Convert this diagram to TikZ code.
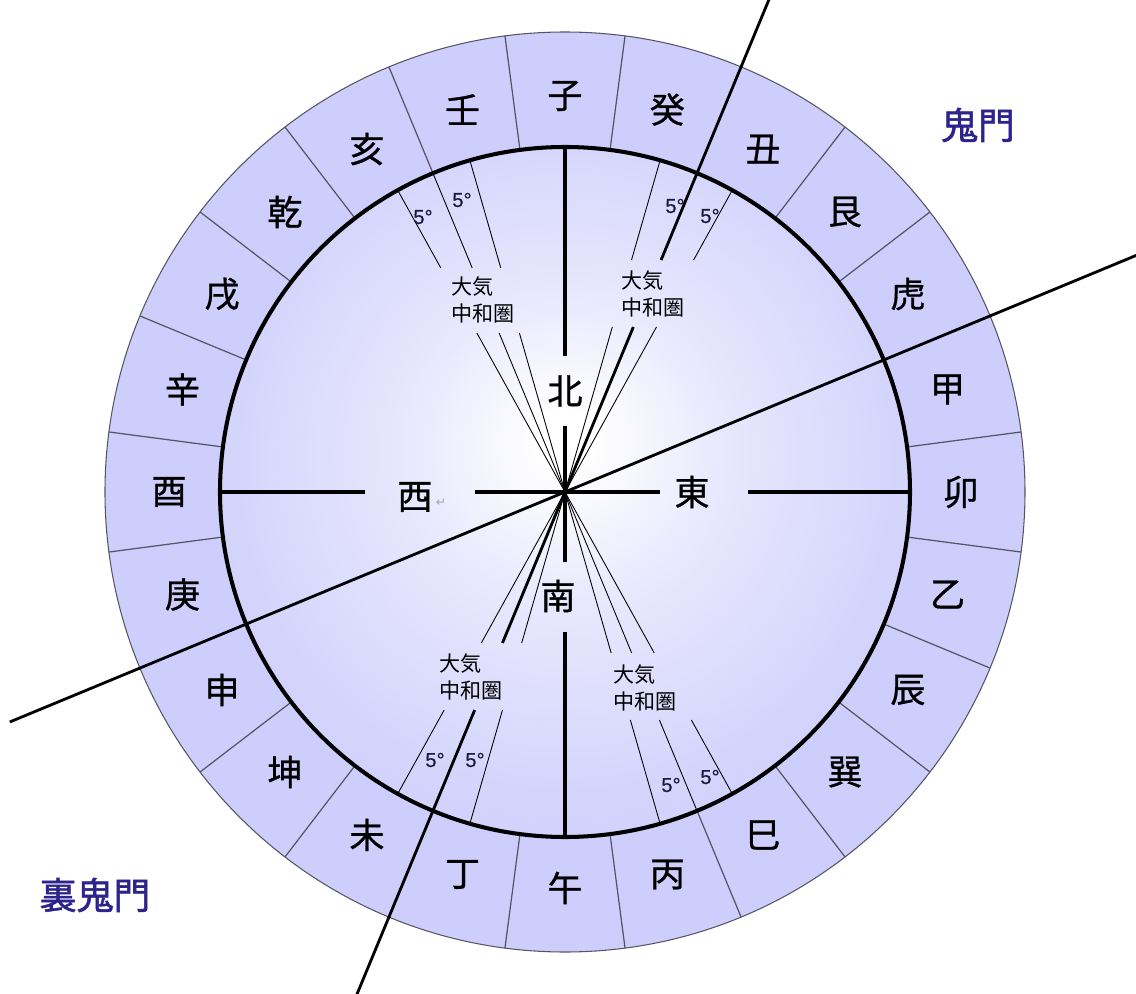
\documentclass[tikz,border=0pt]{standalone}
\usepackage{fontspec}
\newfontfamily\jpfont{Noto Sans CJK JP}
\newfontfamily\kanfont[FakeBold=0.8]{Noto Sans CJK JP}
\newfontfamily\gatefont[FakeBold=1.5]{Noto Sans CJK JP}
\newfontfamily\degfont[FakeBold=0.5]{Liberation Sans}
\newfontfamily\markfont{DejaVu Sans}
\definecolor{ringfill}{RGB}{206,206,252}
\definecolor{ringedge}{RGB}{85,85,100}
\definecolor{gatetext}{RGB}{45,35,140}
\definecolor{degtext}{RGB}{25,25,60}
\pgfdeclareradialshading{innerglow}{\pgfpoint{0bp}{4bp}}{color(0bp)=(white); color(2bp)=(white); color(12bp)=(ringfill!50!white); color(26bp)=(ringfill!92!white); color(50bp)=(ringfill)}
\tikzset{
  divline/.style={draw=ringedge, line width=0.7pt},
  axisline/.style={line width=2.4pt},
  gateline/.style={line width=1.6pt},
  zoneline/.style={line width=0.5pt},
  kanlabel/.style={font=\kanfont\fontsize{20}{24}\selectfont},
  zonelabel/.style={font=\jpfont\fontsize{12}{15}\selectfont, align=left},
  deglabel/.style={font=\degfont\fontsize{11.5}{13}\selectfont, text=degtext},
  gatelabel/.style={font=\gatefont\fontsize{21}{24}\selectfont, text=gatetext}
}
\begin{document}
\begin{tikzpicture}[x=0.02cm, y=0.02cm]
                    \useasboundingbox (-565,-502) rectangle (571,492);
                    
                    % Drawing outer ring and inner disc
                    \draw [fill=ringfill, draw=ringedge, line width=0.6pt] (0,0) circle (460);%
                    \shade [shading=innerglow] (0,0) circle (345);%
                    
                    % Drawing ring dividers
                    \draw [divline] (7.5:345) -- (7.5:460);%
                    \draw [divline] (22.5:345) -- (22.5:460);%
                    \draw [divline] (37.5:345) -- (37.5:460);%
                    \draw [divline] (52.5:345) -- (52.5:460);%
                    \draw [divline] (67.5:345) -- (67.5:460);%
                    \draw [divline] (82.5:345) -- (82.5:460);%
                    \draw [divline] (97.5:345) -- (97.5:460);%
                    \draw [divline] (112.5:345) -- (112.5:460);%
                    \draw [divline] (127.5:345) -- (127.5:460);%
                    \draw [divline] (142.5:345) -- (142.5:460);%
                    \draw [divline] (157.5:345) -- (157.5:460);%
                    \draw [divline] (172.5:345) -- (172.5:460);%
                    \draw [divline] (187.5:345) -- (187.5:460);%
                    \draw [divline] (202.5:345) -- (202.5:460);%
                    \draw [divline] (217.5:345) -- (217.5:460);%
                    \draw [divline] (232.5:345) -- (232.5:460);%
                    \draw [divline] (247.5:345) -- (247.5:460);%
                    \draw [divline] (262.5:345) -- (262.5:460);%
                    \draw [divline] (277.5:345) -- (277.5:460);%
                    \draw [divline] (292.5:345) -- (292.5:460);%
                    \draw [divline] (307.5:345) -- (307.5:460);%
                    \draw [divline] (322.5:345) -- (322.5:460);%
                    \draw [divline] (337.5:345) -- (337.5:460);%
                    \draw [divline] (352.5:345) -- (352.5:460);%
                    
                    % Drawing zone lines, north east
                    \draw [zoneline] (0,0) -- (61:188.7);%
                    \draw [zoneline] (61:265.3) -- (61:345);%
                    \draw [zoneline] (0,0) -- (74:171.6);%
                    \draw [zoneline] (74:241.3) -- (74:345);%
                    
                    % Drawing zone lines, north west
                    \draw [zoneline] (0,0) -- (106:165.4);%
                    \draw [zoneline] (106:233.0) -- (106:345);%
                    \draw [zoneline] (0,0) -- (112.5:172.1);%
                    \draw [zoneline] (112.5:242.5) -- (112.5:345);%
                    \draw [zoneline] (0,0) -- (119:181.8);%
                    \draw [zoneline] (119:256.1) -- (119:345);%
                    
                    % Drawing zone lines, south west
                    \draw [zoneline] (0,0) -- (241:172.6);%
                    \draw [zoneline] (241:249.3) -- (241:345);%
                    \draw [zoneline] (0,0) -- (254:157.1);%
                    \draw [zoneline] (254:226.8) -- (254:345);%
                    
                    % Drawing zone lines, south east
                    \draw [zoneline] (0,0) -- (-74:167.5);%
                    \draw [zoneline] (-74:237.2) -- (-74:345);%
                    \draw [zoneline] (0,0) -- (-67.5:174.3);%
                    \draw [zoneline] (-67.5:246.8) -- (-67.5:345);%
                    \draw [zoneline] (0,0) -- (-61:184.1);%
                    \draw [zoneline] (-61:260.7) -- (-61:345);%
                    
                    % Drawing cross
                    \draw [axisline] (0,0) -- (90:66);%
                    \draw [axisline] (90:136) -- (90:345);%
                    \draw [axisline] (0,0) -- (270:70);%
                    \draw [axisline] (270:140) -- (270:345);%
                    \draw [axisline] (0,0) -- (0:95);%
                    \draw [axisline] (0:183) -- (0:345);%
                    \draw [axisline] (0,0) -- (180:90);%
                    \draw [axisline] (180:200) -- (180:345);%
                    
                    % Drawing inner circle
                    \draw [line width=2.3pt] (0,0) circle (345);%
                    
                    % Drawing gate lines
                    \draw [gateline] (0,0) -- (67.5:178.6);%
                    \draw [gateline] (67.5:251.1) -- (67.5:560);%
                    \draw [gateline] (0,0) -- (247.5:163.4);%
                    \draw [gateline] (247.5:236.0) -- (247.5:560);%
                    \draw [gateline] (202.5:601) -- (22.5:640);%
                    
                    % Marking ring signs
                    \node [kanlabel] (ne) at (90:396) {子};%
                    \node [kanlabel] (mizunoto) at (75:396) {癸};%
                    \node [kanlabel] (ushi) at (60:396) {丑};%
                    \node [kanlabel] (ushitora) at (45:396) {艮};%
                    \node [kanlabel] (tora) at (30:396) {虎};%
                    \node [kanlabel] (kinoe) at (15:396) {甲};%
                    \node [kanlabel] (u) at (0:396) {卯};%
                    \node [kanlabel] (kinoto) at (-15:396) {乙};%
                    \node [kanlabel] (tatsu) at (-30:396) {辰};%
                    \node [kanlabel] (tatsumi) at (-45:396) {巽};%
                    \node [kanlabel] (mi) at (-60:396) {巳};%
                    \node [kanlabel] (hinoe) at (-75:396) {丙};%
                    \node [kanlabel] (uma) at (-90:396) {午};%
                    \node [kanlabel] (hinoto) at (-105:396) {丁};%
                    \node [kanlabel] (hitsuji) at (-120:396) {未};%
                    \node [kanlabel] (hitsujisaru) at (-135:396) {坤};%
                    \node [kanlabel] (saru) at (-150:396) {申};%
                    \node [kanlabel] (kanoe) at (-165:396) {庚};%
                    \node [kanlabel] (tori) at (180:396) {酉};%
                    \node [kanlabel] (kanoto) at (165:396) {辛};%
                    \node [kanlabel] (inu) at (150:396) {戌};%
                    \node [kanlabel] (inui) at (135:396) {乾};%
                    \node [kanlabel] (i) at (120:396) {亥};%
                    \node [kanlabel] (mizunoe) at (105:396) {壬};%
                    
                    % Marking directions
                    \node [kanlabel] (kita) at (0,101) {北};%
                    \node [kanlabel] (minami) at (-7,-104) {南};%
                    \node [kanlabel] (higashi) at (127,0) {東};%
                    \node [kanlabel] (nishi) at (-150,-5) {西};%
                    \node [font=\markfont\fontsize{7}{8}\selectfont, text=gray!70] (nishimark) at (-124,-11) {↵};%
                    
                    % Marking zones
                    \node [zonelabel] (zone-ne) at (88,198) {大気\\中和圏};%
                    \node [zonelabel] (zone-nw) at (-82,192) {大気\\中和圏};%
                    \node [zonelabel] (zone-sw) at (-94,-185) {大気\\中和圏};%
                    \node [zonelabel] (zone-se) at (80,-196) {大気\\中和圏};%
                    
                    % Marking five degree sectors
                    \node [deglabel] (deg-ne-a) at (110,286) {5°};%
                    \node [deglabel] (deg-ne-b) at (145,276) {5°};%
                    \node [deglabel] (deg-nw-a) at (-142,275) {5°};%
                    \node [deglabel] (deg-nw-b) at (-103,292) {5°};%
                    \node [deglabel] (deg-sw-a) at (-130,-268) {5°};%
                    \node [deglabel] (deg-sw-b) at (-90,-268) {5°};%
                    \node [deglabel] (deg-se-a) at (106,-293) {5°};%
                    \node [deglabel] (deg-se-b) at (145,-285) {5°};%
                    
                    % Marking gates
                    \node [gatelabel] (kimon) at (413,367) {鬼門};%
                    \node [gatelabel] (urakimon) at (-470,-403) {裏鬼門};%
                \end{tikzpicture}
\end{document}
